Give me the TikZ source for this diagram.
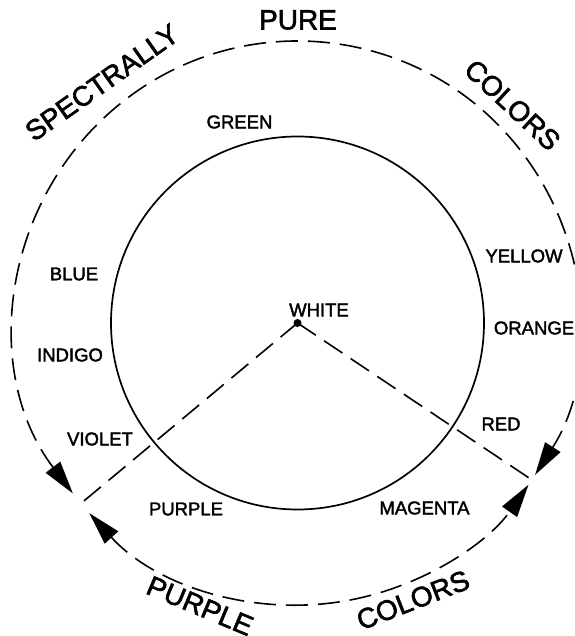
\documentclass[tikz,border=0pt]{standalone}
\usepackage{fontspec}
\setmainfont{Liberation Sans}[FakeBold=2]
\usetikzlibrary{arrows.meta}
\newcommand{\bigf}{\fontsize{28}{30}\selectfont}
\newcommand{\smallf}{\fontsize{18.5}{20}\selectfont}
\tikzset{
  lbl/.style={inner sep=0pt, font=\smallf},
  biglbl/.style={inner sep=0pt, font=\bigf},
  dsh/.style={line width=1.6pt, dash pattern=on 22pt off 10pt},
  tip/.style={{Triangle[length=33pt,width=18pt]}-{Triangle[length=33pt,width=18pt]}}
}
\begin{document}
\begin{tikzpicture}[x=1pt,y=1pt]
\useasboundingbox (0,0) rectangle (574,636);
\coordinate (O) at (297.5,313);
% inner circle
\draw[line width=1.7pt] (O) circle[radius=186.5];
% outer dashed arcs with arrows
\draw[dsh, tip] ([shift={(217.2:282)}]O) arc[start angle=217.2, end angle=-32.6, radius=282];
\draw[dsh, tip] ([shift={(222.4:282)}]O) arc[start angle=222.4, end angle=325.0, radius=282];
% radial dashed lines
\coordinate (Lend) at ([shift={(219.8:285)}]O);
\coordinate (Rend) at ([shift={(326.2:285)}]O);
\draw[dsh] (O) -- (Lend);
\draw[dsh] (O) -- (Rend);
\node[circle, fill=black, inner sep=0pt, minimum size=8pt] (dot) at (O) {};
% labels
\node[lbl] (green) at (239.5,514) {GREEN};
\node[lbl] (blue) at (74,362) {BLUE};
\node[lbl] (indigo) at (70,281) {INDIGO};
\node[lbl] (violet) at (100,197) {VIOLET};
\node[lbl] (white) at (319,326) {WHITE};
\node[lbl] (yellow) at (524,380) {YELLOW};
\node[lbl] (orange) at (534,308) {ORANGE};
\node[lbl] (red) at (501,212) {RED};
\node[lbl] (purple) at (186,127) {PURPLE};
\node[lbl] (magenta) at (424.5,128) {MAGENTA};
% big texts
\node[biglbl, rotate=35.2] (spec) at (102,553.5) {SPECTRALLY};
\node[biglbl] (pure) at (298,616) {PURE};
\node[biglbl, rotate=-42.9] (colorsT) at (512.5,531) {COLORS};
\node[biglbl, rotate=-22.7] (purpleB) at (200,30) {PURPLE};
\node[biglbl, rotate=21.3] (colorsB) at (413,36) {COLORS};
\end{tikzpicture}
\end{document}
